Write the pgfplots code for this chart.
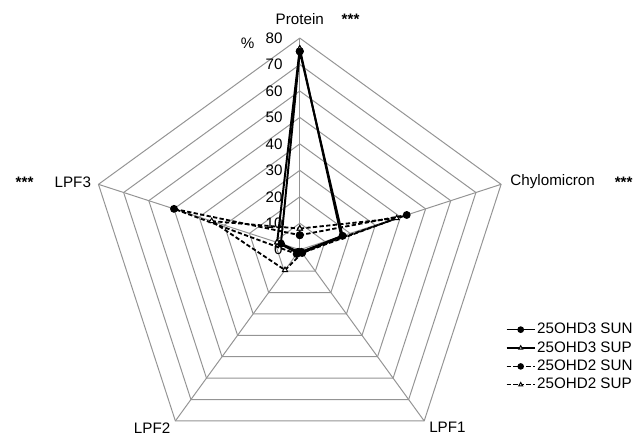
\documentclass[border=0pt]{standalone}
\usepackage{fontspec}
\setmainfont{Liberation Sans}
\usepackage{pgfplots}
\pgfplotsset{compat=1.18}
\newcommand{\stars}{\raisebox{-0.35ex}{\textbf{***}}}
\begin{document}
\begin{tikzpicture}[font=\fontsize{9.2}{11}\selectfont]
\begin{axis}[
  scale only axis, width=382.8bp, height=261.6bp,
  xmin=-113.3, xmax=126.5, ymin=-69.5, ymax=94.4,
  axis lines=none, clip=false,
  legend style={at={(axis cs:77.8,-27)}, anchor=north west, draw=none, fill=none,
    font=\fontsize{9.2}{11}\selectfont, row sep=1.2pt, inner sep=0pt,
    nodes={inner sep=1pt}},
  legend cell align=left,
  legend image code/.code={
    \draw[#1, line width=0.8pt] (0cm,0cm) -- (0.6cm,0cm);
    \draw[#1, solid, mark size=1.4pt] plot coordinates {(0.3cm,0cm)};
  },
  gridl/.style={black!42, line width=0.6pt, data cs=polar, forget plot, mark=none},
  dsh/.style={dash pattern=on 2.6pt off 1.4pt},
]
% pentagon grid
\pgfplotsinvokeforeach{10,20,30,40,50,60,70,80}{
  \addplot[gridl] coordinates {(90,#1) (18,#1) (-54,#1) (-126,#1) (162,#1) (90,#1)};
}
\addplot[gridl] coordinates {(90,0) (90,80)};
\addplot[gridl] coordinates {(18,0) (18,80)};
\addplot[gridl] coordinates {(-54,0) (-54,80)};
\addplot[gridl] coordinates {(-126,0) (-126,80)};
\addplot[gridl] coordinates {(162,0) (162,80)};
% data: (angle, value) -- Protein 90, Chylomicron 18, LPF1 -54, LPF2 -126, LPF3 162
\addplot[black, line width=1.2pt, data cs=polar, mark=*, mark size=1.8pt]
  coordinates {(90,75) (18,17) (-54,1.5) (-126,1) (162,7.5) (90,75)};
\addlegendentry{25OHD3 SUN}
\addplot[black, line width=1.2pt, data cs=polar, mark=triangle*, mark size=1.8pt, mark options={fill=white, line width=0.6pt}]
  coordinates {(90,76) (18,16.5) (-54,1) (-126,1.5) (162,9) (90,76)};
\addlegendentry{25OHD3 SUP}
\addplot[black, line width=1.1pt, dsh, data cs=polar, mark=*, mark size=1.8pt, mark options={solid}]
  coordinates {(90,5.5) (18,42.5) (-54,1) (-126,2) (162,50) (90,5.5)};
\addlegendentry{25OHD2 SUN}
\addplot[black, line width=1.1pt, dsh, data cs=polar, mark=triangle*, mark size=1.8pt, mark options={solid, fill=white, line width=0.6pt}]
  coordinates {(90,8) (18,38.5) (-54,1.5) (-126,9.5) (162,35) (90,8)};
\addlegendentry{25OHD2 SUP}
% redraw filled circles of 25OHD3 SUN on top
\addplot[black, only marks, data cs=polar, mark=*, mark size=1.8pt, forget plot]
  coordinates {(90,75) (18,17) (-54,1.5) (-126,1) (162,7.5)};
% scale labels
\pgfplotsinvokeforeach{0,10,20,30,40,50,60,70,80}{
  \node[anchor=east, inner sep=0pt] at (axis cs:-6.4,#1) {#1};
}
\node at (axis cs:-19.7,78.2) {\%};
\node at (axis cs:0,87.2) {Protein};
\node at (axis cs:19.2,87.2) {\stars};
\node[anchor=east, inner sep=0pt] at (axis cs:-78.8,25.6) {LPF3};
\node at (axis cs:-104,25.6) {\stars};
\node[anchor=west, inner sep=0pt] at (axis cs:79.5,25.6) {Chylomicron};
\node at (axis cs:122.4,25.6) {\stars};
\node at (axis cs:-55.8,-67.3) {LPF2};
\node at (axis cs:55.8,-67.3) {LPF1};
\path (rel axis cs:0,0) rectangle (rel axis cs:1,1);
\end{axis}
\end{tikzpicture}
\end{document}
